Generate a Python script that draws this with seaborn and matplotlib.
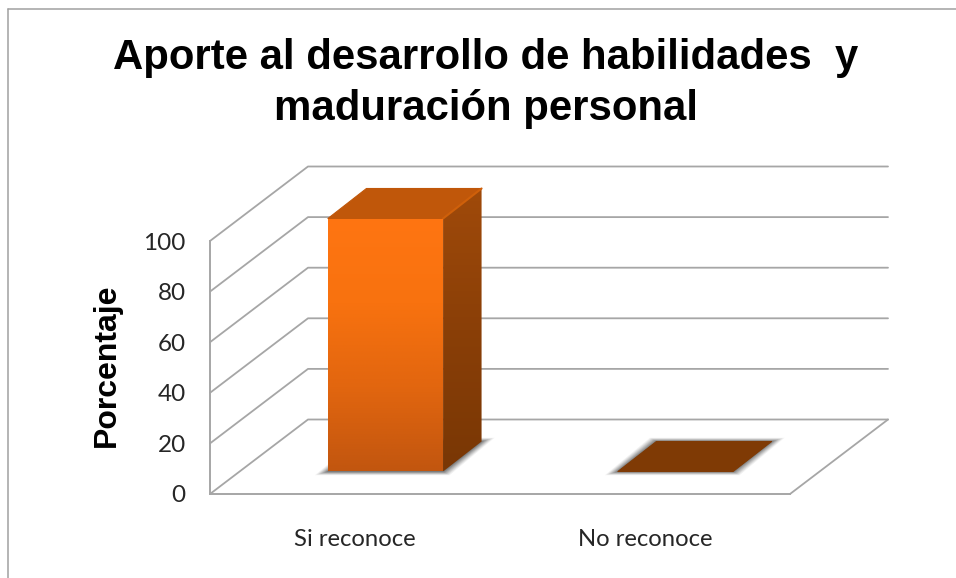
import numpy as np
import pandas as pd
import seaborn as sns
import matplotlib.pyplot as plt
from matplotlib.colors import LinearSegmentedColormap
from matplotlib.lines import Line2D
from matplotlib.patches import Polygon
from matplotlib.transforms import IdentityTransform

# data
categorias = ["Si reconoce", "No reconoce"]
porcentajes = [100, 0]
ticks_y = [0, 20, 40, 60, 80, 100]
titulo = "Aporte al desarrollo de habilidades  y\nmaduración personal"
eje_y = "Porcentaje"

# 3d look, all in pixels
W, H = 956, 578
FONDO = (98, 74.5)      # floor depth of the chart
FRENTE = (30.5, 22.5)   # front of the bars from the front of the floor
CAJA = (38.5, 30)       # depth of one bar
GRIS = "#a6a6a6"
tapas = ["#c0570a", "#7f3a05"]

sns.set_style("white")
plt.rcParams["font.family"] = ["Lato", "DejaVu Sans"]

fig = plt.figure(figsize=(W / 100, H / 100), dpi=100)
ax = fig.add_axes([210 / W, (H - 494) / H, 580 / W, 253 / H])

df = pd.DataFrame({"categoria": categorias, "porcentaje": porcentajes})
sns.barplot(data=df, x="categoria", y="porcentaje", width=0.397, color="#f06e10",
            saturation=1, ax=ax, zorder=4)
ax.set_ylim(0, 100)
ax.set_xlim(-0.5, 1.5)
ax.set_yticks(ticks_y)
ax.set_xlabel("")
ax.set_ylabel(eje_y, fontsize=23, fontweight="bold", family="Liberation Sans",
              color="black", labelpad=15.5, y=0.51)
ax.tick_params(axis="y", length=0, pad=17.5, labelsize=17.5, labelcolor="#262626")
ax.tick_params(axis="x", length=0, pad=25, labelsize=17.2, labelcolor="#262626")
ax.patch.set_alpha(0)
for lado in ["top", "right"]:
    ax.spines[lado].set_visible(False)
for lado in ["left", "bottom"]:
    ax.spines[lado].set_color(GRIS)
    ax.spines[lado].set_linewidth(1.4)


def px(x, v, off=(0, 0)):
    p = ax.transData.transform((x, v))
    return p[0] + off[0], p[1] + off[1]


def suma(a, b):
    return a[0] + b[0], a[1] + b[1]


# walls and gridlines
x0, x1 = ax.get_xlim()
for t in ticks_y:
    xs, ys = zip(px(x0, t), px(x0, t, FONDO), px(x1, t, FONDO))
    ax.add_line(Line2D(xs, ys, color=GRIS, lw=1.3, transform=IdentityTransform(),
                       clip_on=False, zorder=1))
xs, ys = zip(px(x1, 0), px(x1, 0, FONDO))
ax.add_line(Line2D(xs, ys, color=GRIS, lw=1.3, transform=IdentityTransform(),
                   clip_on=False, zorder=1))

frente = ["#c2560f", "#e2660f", "#f8720f", "#ff7512"]
cmap_frente = LinearSegmentedColormap.from_list("frente", frente)
cmap_lado = LinearSegmentedColormap.from_list("lado", ["#793705", "#8a3f07", "#a04a0a"])
grad = np.linspace(0, 1, 256).reshape(-1, 1)


def cara(esquinas, cmap, z):
    # polygon face filled with a vertical gradient
    pts = np.array(esquinas)
    poly = Polygon(pts, closed=True, facecolor="none", edgecolor="none",
                   transform=IdentityTransform(), zorder=z, clip_on=False)
    ax.add_patch(poly)
    im = ax.imshow(grad, cmap=cmap, origin="lower", aspect="auto", zorder=z,
                   extent=[pts[:, 0].min(), pts[:, 0].max(), pts[:, 1].min(), pts[:, 1].max()],
                   transform=IdentityTransform())
    im.set_clip_box(fig.bbox)
    im.set_clip_path(poly)


for bar, valor, tapa in zip(ax.patches, porcentajes, tapas):
    izq, der = bar.get_x(), bar.get_x() + bar.get_width()
    a = px(izq, 0, FRENTE)
    b = px(der, 0, FRENTE)
    # soft shadow on the floor
    for s, alfa in [(13, 0.07), (11, 0.10), (9, 0.12), (7, 0.15), (5, 0.18), (3, 0.22), (1, 0.25)]:
        v = s / 3.5
        huella = [(a[0] - s, a[1] - v), (b[0] + s * 0.5, b[1] - v),
                  (b[0] + CAJA[0] + s, b[1] + CAJA[1] + v),
                  (a[0] + CAJA[0] - s * 0.5, a[1] + CAJA[1] + v)]
        ax.add_patch(Polygon(huella, closed=True, facecolor="#404040", edgecolor="none",
                             alpha=alfa, transform=IdentityTransform(), zorder=2,
                             clip_on=False))
    c = px(izq, valor, FRENTE)
    d = px(der, valor, FRENTE)
    # top face
    ax.add_patch(Polygon([c, d, suma(d, CAJA), suma(c, CAJA)], closed=True,
                         facecolor=tapa, edgecolor=tapa, lw=0.8, joinstyle="round",
                         transform=IdentityTransform(), zorder=3, clip_on=False))
    if valor > 0:
        cara([b, suma(b, CAJA), suma(d, CAJA), d], cmap_lado, 3)
        cara([a, b, d, c], cmap_frente, 4)
        xs, ys = zip(d, suma(d, CAJA))
        ax.add_line(Line2D(xs, ys, color="#cf600a", lw=1.5, transform=IdentityTransform(),
                           clip_on=False, zorder=3.5))
    # the faces above replace the flat bar from seaborn
    bar.set_visible(False)

ax.set_xlim(x0, x1)
ax.set_ylim(0, 100)

fig.text(486 / W, (H - 83.5) / H, titulo, ha="center", va="center", fontsize=30.2,
         fontweight="bold", family="Liberation Sans", color="black", linespacing=1.33)

# outer frame of the pasted chart
fig.add_artist(Line2D([7.5 / W, 1], [(H - 8.5) / H] * 2, color="#a0a0a0", lw=1.1))
fig.add_artist(Line2D([7.5 / W] * 2, [0, (H - 8.5) / H], color="#a0a0a0", lw=1.1))

plt.savefig("out.png", dpi=100)
